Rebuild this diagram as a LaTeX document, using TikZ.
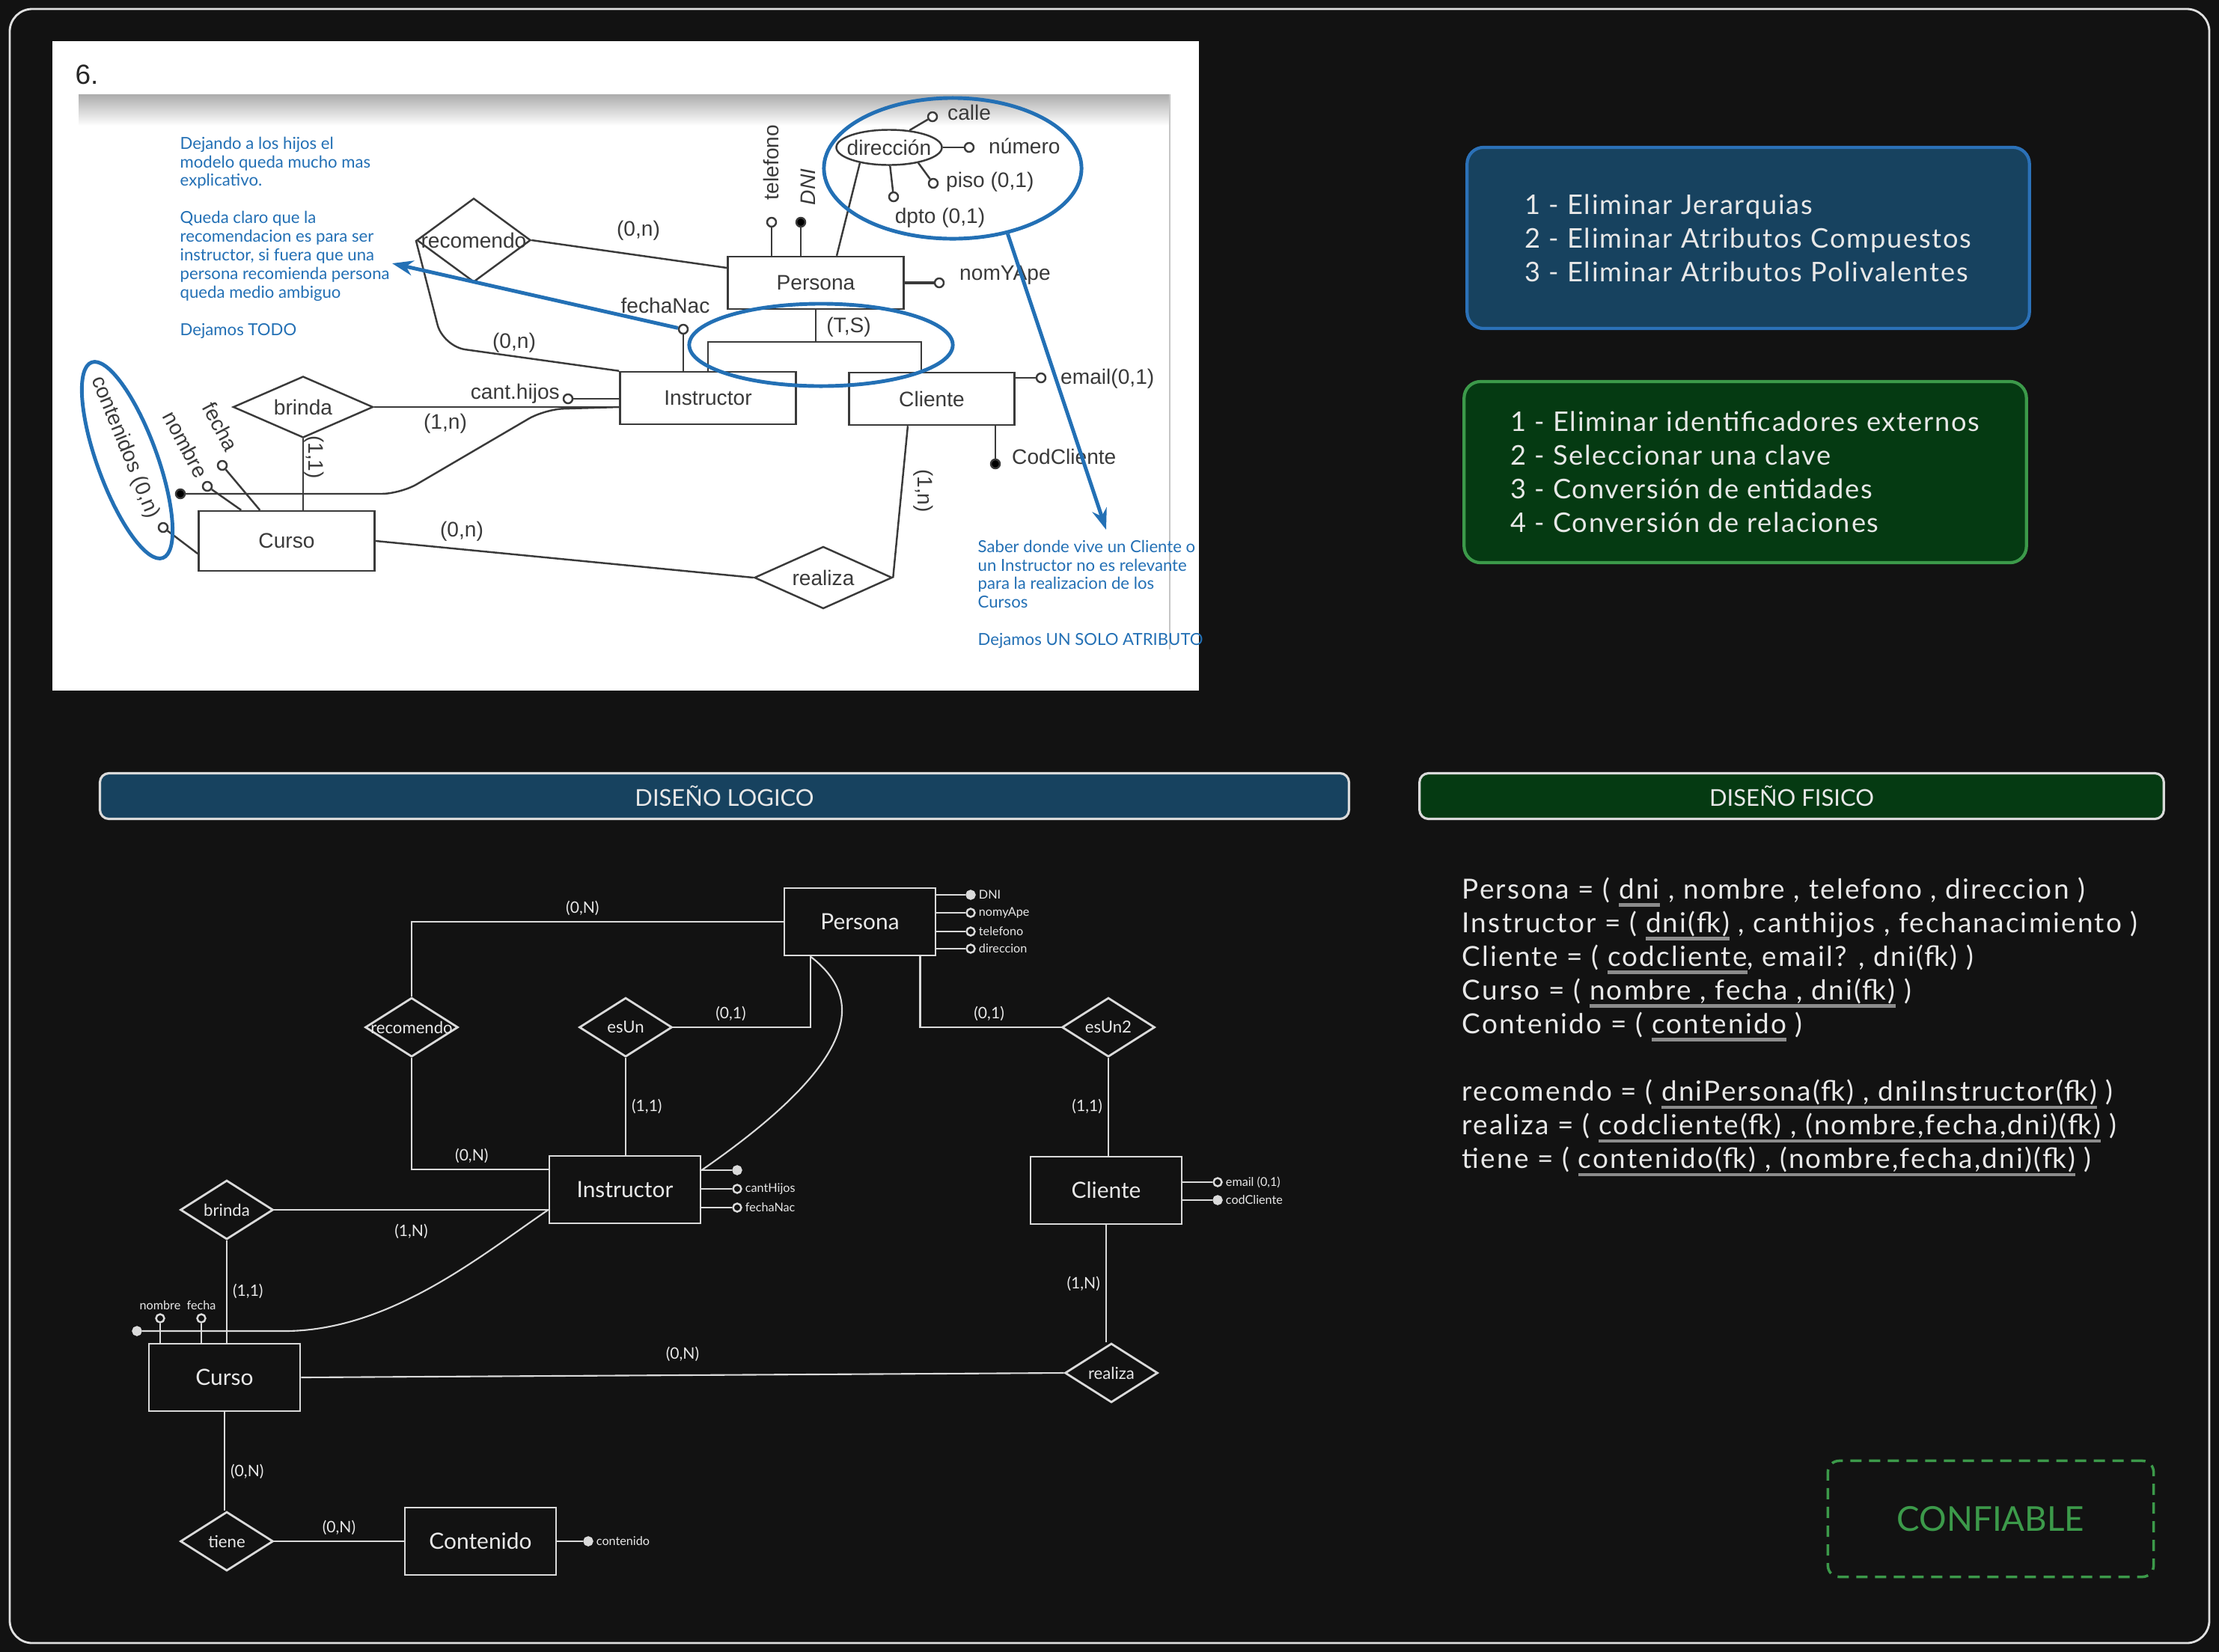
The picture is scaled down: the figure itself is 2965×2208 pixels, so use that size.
\documentclass[tikz,border=0pt]{standalone}
\usepackage{fontspec}
\usepackage{xcolor}
\usepackage{tikz}
\usetikzlibrary{shapes.geometric, arrows.meta, positioning}

\setmainfont{Lato}
\newfontfamily\arialfont{Liberation Sans}
\newfontfamily\manoancha[LetterSpace=6]{Lato}
\newfontfamily\manocaja[LetterSpace=5]{Lato}

\definecolor{fondo}{HTML}{121212}
\definecolor{trazo}{HTML}{DADADA}
\definecolor{tinta}{HTML}{E8E8E8}
\definecolor{azulnota}{HTML}{2370B5}
\definecolor{azulcaja}{HTML}{17425F}
\definecolor{azulborde}{HTML}{2B71B8}
\definecolor{verdecaja}{HTML}{053A12}
\definecolor{verdeborde}{HTML}{3C9A4A}
\definecolor{grisclave}{HTML}{8C8C8C}
\definecolor{lineass}{HTML}{3A3A3A}

\newsavebox\cajaclave
\newcommand\clave[1]{\sbox\cajaclave{#1}\leavevmode\rlap{\textcolor{grisclave}{\rule[-0.55ex]{\wd\cajaclave}{1.2pt}}}\usebox\cajaclave}

\begin{document}
\begin{tikzpicture}[x=0.01cm, y=-0.01cm,
  entidad/.style={draw=trazo, line width=0.8pt, fill=fondo, minimum width=2.02cm, minimum height=0.9cm, text=tinta, font=\fontsize{8.5}{10}\selectfont},
  relacion/.style={diamond, draw=trazo, line width=0.8pt, fill=fondo, minimum width=1.24cm, minimum height=0.79cm, inner sep=0pt},
  reltxt/.style={text=tinta, font=\fontsize{6.3}{7}\selectfont, inner sep=0pt},
  card/.style={text=tinta, font=\fontsize{6}{7}\selectfont, inner sep=2pt},
  atrib/.style={circle, draw=trazo, line width=0.7pt, fill=fondo, minimum size=0.11cm, inner sep=0pt},
  clavedot/.style={atrib, fill=trazo},
  atribtxt/.style={text=tinta, font=\fontsize{4.6}{5}\selectfont, inner sep=1pt},
  conector/.style={draw=trazo, line width=0.6pt},
  ssent/.style={draw=lineass, line width=0.7pt, fill=white, minimum width=2.35cm, minimum height=0.7cm, text=lineass, font=\arialfont\fontsize{8}{9}\selectfont},
  ssrel/.style={diamond, draw=lineass, line width=0.7pt, fill=white, inner sep=0pt},
  sstxt/.style={text=lineass, font=\arialfont\fontsize{8}{9}\selectfont, inner sep=1pt},
  ssat/.style={circle, draw=lineass, line width=0.7pt, fill=white, minimum size=0.12cm, inner sep=0pt},
  ssdot/.style={ssat, fill=black},
  ssline/.style={draw=lineass, line width=0.7pt},
  nota/.style={text=azulnota, align=left, inner sep=0pt, font=\fontsize{6.3}{7.1}\selectfont},
  anillo/.style={ellipse, draw=azulnota, line width=1.4pt},
  notaflecha/.style={draw=azulnota, line width=1.4pt, -{Stealth[length=0.28cm, width=0.2cm]}},
  caja/.style={line width=1.2pt, rounded corners=0.22cm, minimum width=7.51cm, minimum height=2.42cm, align=left, text=tinta, font=\manocaja\fontsize{10.3}{12.8}\selectfont},
  titulo/.style={draw=trazo, line width=0.9pt, rounded corners=0.12cm, minimum height=0.61cm, text=tinta, font=\fontsize{8.8}{10}\selectfont},
  marco/.style={draw=trazo!85, line width=0.8pt, rounded corners=0.3cm}
]

\useasboundingbox (0,0) rectangle (2965,2208);
\fill[fondo] (0,0) rectangle (2965,2208);
\draw[marco] (13,12) rectangle (2952,2196);

% captura del enunciado
\fill[white] (70,55) rectangle (1602,923);
\shade[top color=gray!65, bottom color=white] (105,126) rectangle (1564,168);
\draw[gray!45, line width=0.8pt] (1563,126) -- (1563,868);
\node[text=black!85, font=\arialfont\fontsize{10.5}{12}\selectfont] (num) at (116,100) {6.};

\node[ssent] (sPers) at (1090,378) {Persona};
\node[ssent] (sInst) at (946,532) {Instructor};
\node[ssent, minimum width=2.21cm] (sCli) at (1245,533) {Cliente};
\node[ssent, minimum height=0.8cm] (sCurso) at (383,723) {Curso};
\node[ssrel, minimum width=1.52cm, minimum height=1.12cm, label={[sstxt]center:recomendo}] (sReco) at (633,321) {};
\node[ssrel, minimum width=1.87cm, minimum height=0.82cm, label={[sstxt]center:brinda}] (sBrinda) at (405,544) {};
\node[ssrel, minimum width=1.84cm, minimum height=0.83cm, label={[sstxt]center:realiza}] (sRealiza) at (1100,772) {};
\node[ellipse, draw=lineass, line width=0.7pt, minimum width=1.41cm, minimum height=0.47cm, label={[sstxt]center:dirección}] (sDir) at (1188,197) {};

\node[ssat] (sTel) at (1031,297) {};
\node[ssdot] (sDNI) at (1070,297) {};
\node[ssat] (sCalle) at (1246,156) {};
\node[ssat] (sNum) at (1295,197) {};
\node[ssat] (sPiso) at (1247,245) {};
\node[ssat] (sDpto) at (1194,263) {};
\node[ssat] (sNom) at (1255,378) {};
\node[ssat] (sFecN) at (913,440) {};
\node[ssat] (sHijos) at (759,533) {};
\node[ssat] (sEmail) at (1391,505) {};
\node[ssdot] (sCod) at (1330,620) {};
\node[ssat] (sCont) at (218,705) {};
\node[ssat] (sNombre) at (277,650) {};
\node[ssat] (sFecha) at (297,622) {};
\node[ssdot] (sKey) at (241,660) {};
\coordinate (sTS) at (1090,457);

\node[sstxt, rotate=90] (tTel) at (1030,217) {telefono};
\node[sstxt, rotate=90, font=\arialfont\itshape\fontsize{8}{9}\selectfont] (tDNI) at (1080,250) {DNI};
\node[sstxt, anchor=west] (tCalle) at (1262,150) {calle};
\node[sstxt, anchor=west] (tNum) at (1317,195) {número};
\node[sstxt, anchor=west] (tPiso) at (1260,243) {piso (0,1)};
\node[sstxt] (tDpto) at (1256,291) {dpto (0,1)};
\node[sstxt, anchor=west] (tNom) at (1278,368) {nomYApe};
\node[sstxt] (tFecN) at (889,408) {fechaNac};
\node[sstxt, anchor=east] (tHijos) at (752,526) {cant.hijos};
\node[sstxt, anchor=west] (tEmail) at (1413,506) {email(0,1)};
\node[sstxt, anchor=west] (tCod) at (1348,610) {CodCliente};
\node[sstxt, rotate=-68] (tCont) at (167,598) {contenidos (0,n)};
\node[sstxt, rotate=-62] (tNombre) at (248,594) {nombre};
\node[sstxt, rotate=-62] (tFecha) at (295,570) {fecha};
\node[sstxt] (tTS) at (1134,437) {(T,S)};

\node[sstxt] (sc1) at (853,308) {(0,n)};
\node[sstxt] (sc2) at (687,458) {(0,n)};
\node[sstxt] (sc3) at (595,566) {(1,n)};
\node[sstxt, rotate=-90] (sc4) at (420,611) {(1,1)};
\node[sstxt] (sc5) at (617,710) {(0,n)};
\node[sstxt, rotate=-90] (sc6) at (1234,656) {(1,n)};

\draw[ssline] (sTel) -- (sTel |- sPers.north);
\draw[ssline] (sDNI) -- (sDNI |- sPers.north);
\draw[ssline] (sDir.-152) -- ([xshift=0.28cm]sPers.north);
\draw[ssline] (sDir.40) -- (sCalle);
\draw[ssline] (sDir.east) -- (sNum);
\draw[ssline] (sDir.-28) -- (sPiso);
\draw[ssline] (sDir.-87) -- (sDpto);
\draw[ssline, line width=1.2pt] (sPers.east) -- (sNom);
\draw[ssline] (sPers.south) -- (sTS);
\draw[ssline] (sInst.north) |- (sTS) -| ([xshift=-0.14cm]sCli.north);
\draw[ssline] (sFecN) -- (sFecN |- sInst.north);
\draw[ssline] (sHijos) -- (sInst.west |- sHijos);
\draw[ssline] (sBrinda.east) -- (sInst.west |- sBrinda.east);
\draw[ssline, rounded corners=0.25cm] (sKey) -- (535,660) -- (728,547) -- (sInst.west |- sBrinda.east);
\draw[ssline] (sBrinda.south) -- (sBrinda.south |- sCurso.north);
\draw[ssline] (sCont) -- ([yshift=-0.17cm]sCurso.west);
\draw[ssline] (sNombre) -- ([xshift=0.58cm]sCurso.north west);
\draw[ssline] (sFecha) -- ([xshift=0.83cm]sCurso.north west);
\draw[ssline] (sCurso.east) -- (sRealiza.west);
\draw[ssline] ([xshift=-0.32cm]sCli.south) -- (sRealiza.east);
\draw[ssline] (sEmail) -- (sCli.east |- sEmail);
\draw[ssline] (sCod) -- (sCod |- sCli.south);
\draw[ssline] (sReco.east) -- ([yshift=0.2cm]sPers.west);
\draw[ssline, rounded corners=0.3cm] (sReco.west) -- (592,463) -- (sInst.north west);

% notas en azul
\node[anillo, minimum width=3.44cm, minimum height=1.88cm] (oDir) at (1273,225) {};
\node[anillo, minimum width=3.52cm, minimum height=1.1cm] (oTS) at (1097,461) {};
\node[anillo, minimum width=2.78cm, minimum height=0.8cm, rotate=-70] (oCont) at (170,615) {};
\coordinate (tipA) at (524,352);
\coordinate (tipB) at (1478,708);
\draw[notaflecha] (sFecN) -- (tipA);
\draw[notaflecha] (oDir.-50) -- (tipB);

\node[nota, anchor=north west] (notaIzq) at (240,182) {Dejando a los hijos el\\modelo queda mucho mas\\explicativo.\\[7.1pt]Queda claro que la\\recomendacion es para ser\\instructor, si fuera que una\\persona recomienda persona\\queda medio ambiguo\\[7.1pt]Dejamos TODO};
\node[nota, anchor=north west] (notaDer) at (1306,721) {Saber donde vive un Cliente o\\un Instructor no es relevante\\para la realizacion de los\\Cursos\\[7.1pt]Dejamos UN SOLO ATRIBUTO};

% pasos
\node[caja, draw=azulborde, fill=azulcaja] (pasosLog) at (2336,318) {1 - Eliminar Jerarquias\\2 - Eliminar Atributos Compuestos\\3 - Eliminar Atributos Polivalentes};
\node[caja, draw=verdeborde, fill=verdecaja] (pasosFis) at (2332,631) {1 - Eliminar identificadores externos\\2 - Seleccionar una clave\\3 - Conversión de entidades\\4 - Conversión de relaciones};

\node[titulo, fill=azulcaja, minimum width=16.68cm] (tLog) at (968,1064) {DISEÑO LOGICO};
\node[titulo, fill=verdecaja, minimum width=9.94cm] (tFis) at (2394,1064) {DISEÑO FISICO};

% diseño fisico
\node[anchor=north west, align=left, inner sep=0pt, text=tinta, font=\manoancha\fontsize{10.5}{12.8}\selectfont] (tablas) at (1953,1172) {Persona = ( \clave{dni} , nombre , telefono , direccion )\\
Instructor = ( \clave{dni(fk)} , canthijos , fechanacimiento )\\
Cliente = ( \clave{codcliente}, email? , dni(fk) )\\
Curso = ( \clave{nombre , fecha , dni(fk)} )\\
Contenido = ( \clave{contenido} )\\[12.8pt]
recomendo = ( \clave{dniPersona(fk) , dniInstructor(fk)} )\\
realiza = ( \clave{codcliente(fk) , (nombre,fecha,dni)(fk)} )\\
tiene = ( \clave{contenido(fk) , (nombre,fecha,dni)(fk)} )};

\node[draw=verdeborde, dash pattern=on 0.15cm off 0.1cm, line width=1pt, rounded corners=0.15cm, minimum width=4.35cm, minimum height=1.55cm, text=verdeborde, font=\fontsize{13}{15}\selectfont] (conf) at (2660,2030) {CONFIABLE};

% diseño logico
\node[entidad] (lPers) at (1149,1232) {Persona};
\node[entidad] (lInst) at (835,1590) {Instructor};
\node[entidad] (lCli) at (1478,1591) {Cliente};
\node[entidad] (lCurso) at (300,1841) {Curso};
\node[entidad] (lCont) at (642,2060) {Contenido};
\node[relacion, label={[reltxt]center:recomendo}] (lReco) at (550,1373) {};
\node[relacion, label={[reltxt]center:esUn}] (lEsUn) at (836,1373) {};
\node[relacion, label={[reltxt]center:esUn2}] (lEsUn2) at (1481,1373) {};
\node[relacion, label={[reltxt]center:brinda}] (lBrinda) at (303,1617) {};
\node[relacion, label={[reltxt]center:realiza}] (lRealiza) at (1485,1835) {};
\node[relacion, label={[reltxt]center:tiene}] (lTiene) at (303,2060) {};

\node[clavedot, label={[atribtxt]right:DNI}] (lpDNI) at (1297,1196) {};
\node[atrib, label={[atribtxt]right:nomyApe}] (lpNom) at (1297,1220) {};
\node[atrib, label={[atribtxt]right:telefono}] (lpTel) at (1297,1245) {};
\node[atrib, label={[atribtxt]right:direccion}] (lpDir) at (1297,1268) {};
\node[clavedot] (liDNI) at (985,1564) {};
\node[atrib, label={[atribtxt]right:cantHijos}] (liHijos) at (985,1589) {};
\node[atrib, label={[atribtxt]right:fechaNac}] (liFec) at (985,1614) {};
\node[atrib, label={[atribtxt]right:email (0,1)}] (lcEmail) at (1627,1580) {};
\node[clavedot, label={[atribtxt]right:codCliente}] (lcCod) at (1627,1604) {};
\node[atrib, label={[atribtxt]above:nombre}] (lkNom) at (214,1762) {};
\node[atrib, label={[atribtxt]above:fecha}] (lkFec) at (269,1762) {};
\node[clavedot] (lkDot) at (183,1779) {};
\node[clavedot, label={[atribtxt]right:contenido}] (lnCont) at (786,2060) {};

\draw[conector] (lPers.east |- lpDNI) -- (lpDNI);
\draw[conector] (lPers.east |- lpNom) -- (lpNom);
\draw[conector] (lPers.east |- lpTel) -- (lpTel);
\draw[conector] (lPers.east |- lpDir) -- (lpDir);
\draw[conector] (lInst.east |- liDNI) -- (liDNI);
\draw[conector] (lInst.east |- liHijos) -- (liHijos);
\draw[conector] (lInst.east |- liFec) -- (liFec);
\draw[conector] (lCli.east |- lcEmail) -- (lcEmail);
\draw[conector] (lCli.east |- lcCod) -- (lcCod);
\draw[conector] (lkNom) -- (lkNom |- lCurso.north);
\draw[conector] (lkFec) -- (lkFec |- lCurso.north);
\draw[conector] (lCont.east) -- (lnCont);

\draw[conector] (lReco.north) |- (lPers.west) node[card, pos=0.73, above] (k1) {(0,N)};
\draw[conector] (lReco.south) |- (lInst.165) node[card, pos=0.72, above] (k2) {(0,N)};
\draw[conector] (lEsUn.east) -| ([xshift=-0.66cm]lPers.south) node[card, pos=0.21, above] (k3) {(0,1)};
\draw[conector] (lEsUn.south) -- (lEsUn.south |- lInst.north) node[card, midway, right] (k4) {(1,1)};
\draw[conector] ([xshift=-0.66cm]lPers.south) .. controls (1150,1330) and (1160,1410) .. (lInst.east |- liDNI);
\draw[conector] ([xshift=-0.22cm]lPers.south east) |- (lEsUn2.west) node[card, pos=0.745, above] (k5) {(0,1)};
\draw[conector] (lEsUn2.south) -- (lEsUn2.south |- lCli.north) node[card, midway, left] (k6) {(1,1)};
\draw[conector] (lBrinda.east) -- (lInst.west |- lBrinda.east) node[card, midway, below=3pt] (k7) {(1,N)};
\draw[conector] (lBrinda.south) -- (lBrinda.south |- lCurso.north) node[card, midway, right] (k8) {(1,1)};
\draw[conector] (lInst.west |- lBrinda.east) .. controls (640,1680) and (520,1779) .. (380,1779) -- (lkDot);
\draw[conector] (lCurso.east) -- (lRealiza.west) node[card, midway, above=3pt] (k9) {(0,N)};
\draw[conector] (lCli.south) -- (lCli.south |- lRealiza.north) node[card, midway, left] (k10) {(1,N)};
\draw[conector] (lCurso.south) -- (lCurso.south |- lTiene.north) node[card, pos=0.6, right] (k11) {(0,N)};
\draw[conector] (lTiene.east) -- (lCont.west) node[card, midway, above] (k12) {(0,N)};

\end{tikzpicture}
\end{document}
